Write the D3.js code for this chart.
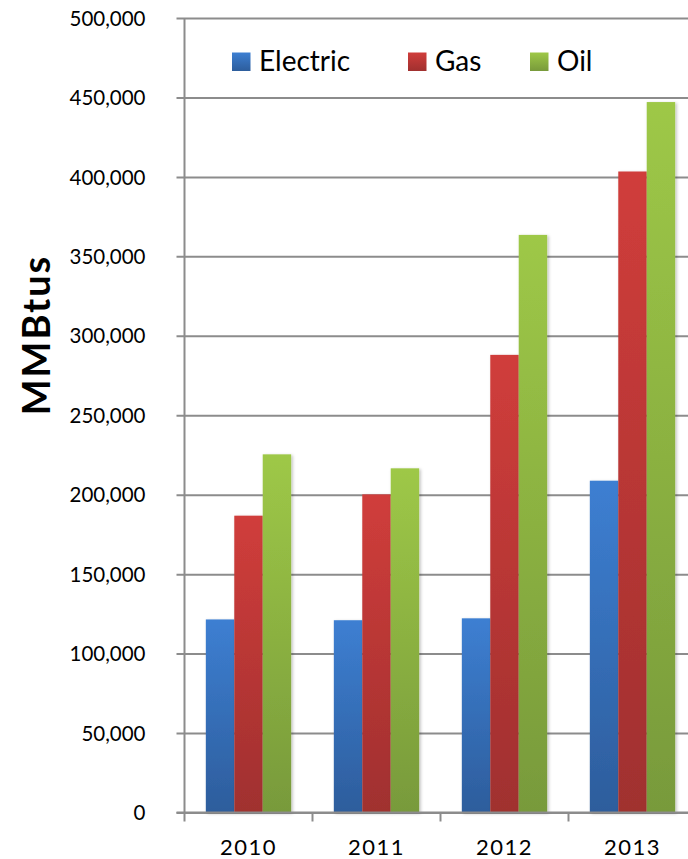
<!DOCTYPE html>
<html>
<head>
<meta charset="utf-8">
<script src="https://cdn.jsdelivr.net/npm/d3@7/dist/d3.min.js"></script>
<style>
  html, body { margin: 0; padding: 0; background: #fff; overflow: hidden; }
  svg { display: block; }
  text { font-family: Lato, "Open Sans", sans-serif; fill: #000; }
</style>
</head>
<body>
<svg id="chart" width="688" height="859"></svg>
<script>
// Energy use by year, MMBtus
const years = ["2010", "2011", "2012", "2013"];
const seriesNames = ["Electric", "Gas", "Oil"];
const electric = [121500, 121000, 122200, 208800];
const gas = [186800, 200200, 288000, 403400];
const oil = [225400, 216600, 363500, 447100];
const yTicks = [0, 50000, 100000, 150000, 200000, 250000, 300000, 350000, 400000, 450000, 500000];

const seriesValues = { Electric: electric, Gas: gas, Oil: oil };
const palette = {
  Electric: ["#3d7fd2", "#2d5d9c"],
  Gas: ["#d03d3b", "#a0302f"],
  Oil: ["#9ec847", "#789a3b"]
};

const svg = d3.select("#chart");
const plot = { left: 184.5, right: 696.5, top: 18, bottom: 812.5 };

const x0 = d3.scaleBand().domain(years).range([plot.left, plot.right]).padding(0);
const x1 = d3.scaleBand().domain(seriesNames).range([0, x0.bandwidth()])
  .paddingInner(0).paddingOuter(0.75);
const y = d3.scaleLinear().domain([0, 500000]).range([plot.bottom, plot.top]);

// gradients and soft shadow
const defs = svg.append("defs");
seriesNames.forEach(s => {
  const g = defs.append("linearGradient").attr("id", "grad-" + s)
    .attr("x1", 0).attr("y1", 0).attr("x2", 0).attr("y2", 1);
  g.append("stop").attr("offset", "0%").attr("stop-color", palette[s][0]);
  g.append("stop").attr("offset", "100%").attr("stop-color", palette[s][1]);
});
const shadow = defs.append("filter").attr("id", "shadow")
  .attr("x", "-20%").attr("y", "-5%").attr("width", "150%").attr("height", "120%");
shadow.append("feDropShadow").attr("dx", 1.5).attr("dy", 1).attr("stdDeviation", 1.5)
  .attr("flood-color", "#000").attr("flood-opacity", 0.25);

// horizontal gridlines with tick labels (left axis)
const yAxis = d3.axisLeft(y).tickValues(yTicks)
  .tickFormat(d3.format(","))
  .tickSize(-(plot.right - plot.left) - 8)
  .tickPadding(0);
const gy = svg.append("g").attr("transform", `translate(${plot.left - 8},0)`).call(yAxis);
gy.select(".domain").remove();
gy.selectAll(".tick line").attr("stroke", "#8c8c8c").attr("stroke-width", 2)
  .attr("x1", 0).attr("x2", plot.right - plot.left + 8);
gy.selectAll(".tick text")
  .attr("x", -31).attr("dy", "0.35em")
  .style("font-size", "20.5px").style("font-family", "Lato, sans-serif").attr("fill", "#000");

// vertical axis line
svg.append("line")
  .attr("x1", plot.left).attr("x2", plot.left)
  .attr("y1", plot.top).attr("y2", plot.bottom + 9)
  .attr("stroke", "#8c8c8c").attr("stroke-width", 2);

// bars
const groups = svg.append("g").selectAll("g").data(years).join("g")
  .attr("transform", d => `translate(${x0(d)},0)`);
groups.selectAll("rect")
  .data((yr, i) => seriesNames.map(s => ({ s, v: seriesValues[s][i] })))
  .join("rect")
  .attr("x", d => x1(d.s))
  .attr("width", x1.bandwidth())
  .attr("y", d => y(d.v))
  .attr("height", d => y(0) - y(d.v))
  .attr("fill", d => `url(#grad-${d.s})`)
  .attr("filter", "url(#shadow)");

// bottom axis: category separators and year labels
const xAxis = d3.axisBottom(x0).tickSize(0).tickPadding(0);
const gx = svg.append("g").attr("transform", `translate(0,${plot.bottom})`).call(xAxis);
gx.select(".domain").remove();
gx.selectAll(".tick text")
  .attr("y", 42).attr("dy", 0)
  .style("font-size", "22px").style("font-family", "Lato, sans-serif")
  .style("letter-spacing", "1.5px").attr("fill", "#000");
svg.append("g").selectAll("line")
  .data(years.slice(1))
  .join("line")
  .attr("x1", d => x0(d)).attr("x2", d => x0(d))
  .attr("y1", plot.bottom).attr("y2", plot.bottom + 9)
  .attr("stroke", "#8c8c8c").attr("stroke-width", 2);
// baseline over the bars
svg.append("line")
  .attr("x1", plot.left - 8).attr("x2", plot.right)
  .attr("y1", plot.bottom).attr("y2", plot.bottom)
  .attr("stroke", "#8c8c8c").attr("stroke-width", 2);

// y axis title
svg.append("text")
  .attr("transform", `translate(50,335) rotate(-90)`)
  .attr("text-anchor", "middle")
  .style("font-size", "38px").style("font-weight", "bold")
  .style("font-family", "Lato, sans-serif")
  .style("letter-spacing", "2px")
  .text("MMBtus");

// legend
const legendX = { Electric: 232, Gas: 408, Oil: 530 };
const legend = svg.append("g").selectAll("g").data(seriesNames).join("g")
  .attr("transform", d => `translate(${legendX[d]},52.5)`);
legend.append("rect").attr("width", 18.5).attr("height", 18.5)
  .attr("fill", d => `url(#grad-${d})`);
legend.append("text").attr("x", 27).attr("y", 18.5)
  .style("font-size", "28px").style("font-family", "Lato, sans-serif")
  .text(d => d);
</script>
</body>
</html>
